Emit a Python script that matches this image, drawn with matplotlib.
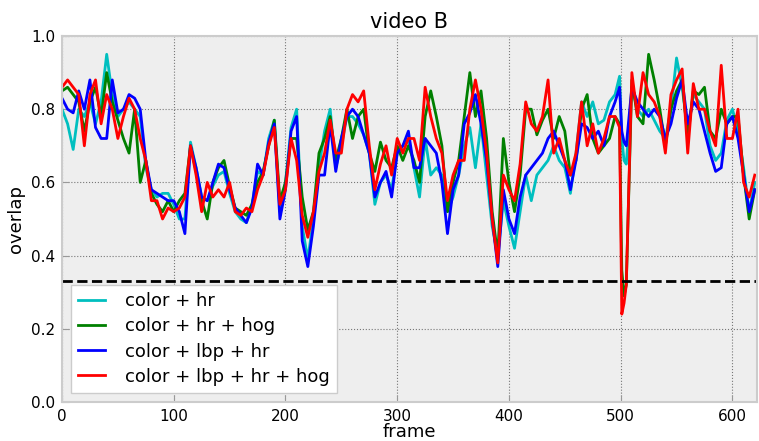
import numpy as np
import matplotlib
matplotlib.use("Agg")
import matplotlib.pyplot as plt

# frame numbers (denser around the drop near frame 500)
frames = list(range(0, 500, 5)) + [499, 501, 503, 505] + list(range(510, 621, 5))

color_hr = [
    0.80, 0.76, 0.69, 0.80, 0.78, 0.82, 0.76, 0.82, 0.95, 0.84, 0.78, 0.80, 0.82, 0.80, 0.78, 0.64, 0.58, 0.56, 0.57, 0.57, 0.54, 0.50, 0.50,
    0.71, 0.64, 0.56, 0.55, 0.59, 0.62, 0.63, 0.57, 0.52, 0.50, 0.49, 0.54, 0.63, 0.62, 0.72, 0.77, 0.52, 0.60, 0.75, 0.80, 0.48,
    0.39, 0.50, 0.64, 0.74, 0.80, 0.64, 0.70, 0.78, 0.78, 0.76, 0.73, 0.68, 0.54, 0.60, 0.62, 0.58, 0.68, 0.70, 0.72, 0.64, 0.56, 0.72,
    0.62, 0.64, 0.62, 0.52, 0.56, 0.62, 0.70, 0.75, 0.64, 0.76, 0.62, 0.48, 0.40, 0.55, 0.48, 0.42, 0.52, 0.62, 0.55, 0.62, 0.64,
    0.66, 0.70, 0.66, 0.64, 0.57, 0.68, 0.82, 0.78, 0.82, 0.76, 0.77, 0.82, 0.84,
    0.89, 0.72, 0.66, 0.65,
    0.86, 0.80, 0.78, 0.80, 0.77, 0.74, 0.72, 0.80, 0.94, 0.86, 0.74, 0.84, 0.82, 0.80, 0.70, 0.66, 0.68, 0.77, 0.80, 0.74, 0.64, 0.52, 0.60,
]

color_hr_hog = [
    0.85, 0.86, 0.84, 0.82, 0.74, 0.82, 0.86, 0.78, 0.90, 0.82, 0.77, 0.72, 0.68, 0.80, 0.60, 0.66, 0.57, 0.54, 0.52, 0.55, 0.52, 0.55, 0.57,
    0.70, 0.63, 0.55, 0.50, 0.60, 0.64, 0.66, 0.59, 0.53, 0.52, 0.51, 0.54, 0.60, 0.63, 0.70, 0.77, 0.55, 0.60, 0.72, 0.72, 0.56,
    0.47, 0.52, 0.68, 0.72, 0.78, 0.66, 0.72, 0.80, 0.72, 0.78, 0.80, 0.68, 0.63, 0.71, 0.66, 0.64, 0.70, 0.66, 0.70, 0.66, 0.60, 0.78,
    0.85, 0.78, 0.70, 0.52, 0.60, 0.66, 0.78, 0.90, 0.78, 0.85, 0.72, 0.52, 0.40, 0.72, 0.60, 0.52, 0.62, 0.80, 0.80, 0.73, 0.77,
    0.80, 0.72, 0.78, 0.74, 0.62, 0.66, 0.80, 0.84, 0.72, 0.68, 0.70, 0.72, 0.78,
    0.76, 0.36, 0.29, 0.32,
    0.88, 0.78, 0.76, 0.95, 0.88, 0.80, 0.70, 0.80, 0.85, 0.88, 0.72, 0.85, 0.84, 0.86, 0.74, 0.72, 0.80, 0.76, 0.78, 0.78, 0.62, 0.50, 0.58,
]

color_lbp_hr = [
    0.83, 0.80, 0.79, 0.85, 0.80, 0.88, 0.75, 0.72, 0.72, 0.88, 0.79, 0.80, 0.84, 0.83, 0.80, 0.66, 0.58, 0.57, 0.56, 0.55, 0.55, 0.52, 0.46,
    0.70, 0.64, 0.56, 0.55, 0.60, 0.65, 0.64, 0.58, 0.53, 0.51, 0.49, 0.53, 0.65, 0.62, 0.71, 0.76, 0.50, 0.58, 0.74, 0.78, 0.44,
    0.37, 0.48, 0.62, 0.62, 0.76, 0.63, 0.72, 0.78, 0.80, 0.78, 0.73, 0.68, 0.56, 0.60, 0.63, 0.56, 0.68, 0.70, 0.74, 0.64, 0.64, 0.72,
    0.70, 0.68, 0.60, 0.46, 0.58, 0.62, 0.76, 0.79, 0.84, 0.76, 0.66, 0.50, 0.37, 0.58, 0.50, 0.46, 0.56, 0.62, 0.64, 0.66, 0.68,
    0.72, 0.74, 0.70, 0.66, 0.58, 0.66, 0.76, 0.75, 0.72, 0.74, 0.70, 0.78, 0.82,
    0.86, 0.74, 0.71, 0.70,
    0.86, 0.82, 0.80, 0.78, 0.80, 0.78, 0.72, 0.76, 0.83, 0.88, 0.76, 0.82, 0.80, 0.74, 0.68, 0.63, 0.64, 0.76, 0.78, 0.72, 0.62, 0.52, 0.58,
]

color_lbp_hr_hog = [
    0.86, 0.88, 0.86, 0.84, 0.70, 0.84, 0.88, 0.76, 0.84, 0.80, 0.72, 0.78, 0.83, 0.80, 0.72, 0.66, 0.55, 0.55, 0.50, 0.53, 0.52, 0.53, 0.56,
    0.70, 0.62, 0.52, 0.60, 0.56, 0.58, 0.56, 0.60, 0.52, 0.51, 0.53, 0.52, 0.58, 0.62, 0.70, 0.75, 0.54, 0.58, 0.72, 0.66, 0.51,
    0.45, 0.52, 0.63, 0.68, 0.77, 0.68, 0.68, 0.80, 0.84, 0.82, 0.85, 0.70, 0.58, 0.65, 0.70, 0.62, 0.72, 0.68, 0.72, 0.72, 0.66, 0.86,
    0.78, 0.72, 0.68, 0.55, 0.62, 0.66, 0.66, 0.80, 0.88, 0.80, 0.68, 0.50, 0.38, 0.62, 0.58, 0.55, 0.65, 0.82, 0.76, 0.74, 0.78,
    0.88, 0.68, 0.72, 0.66, 0.62, 0.68, 0.82, 0.70, 0.76, 0.68, 0.72, 0.78, 0.78,
    0.75, 0.24, 0.27, 0.32,
    0.90, 0.78, 0.90, 0.84, 0.82, 0.78, 0.68, 0.84, 0.88, 0.91, 0.68, 0.87, 0.80, 0.80, 0.74, 0.70, 0.92, 0.72, 0.72, 0.80, 0.60, 0.56, 0.62,
]

labels = ["color + hr", "color + hr + hog", "color + lbp + hr", "color + lbp + hr + hog"]
colors = ["#00bfbf", "#008000", "#0000ff", "#ff0000"]
threshold = 0.33

fig = plt.figure(figsize=(7.59, 4.41), dpi=100)
ax = fig.add_axes([62 / 759, 39 / 441, 695 / 759, 366 / 441])
ax.set_facecolor("#eeeeee")

for series, lab, col in zip([color_hr, color_hr_hog, color_lbp_hr, color_lbp_hr_hog], labels, colors):
    ax.plot(frames, series, color=col, linewidth=2, label=lab)

ax.axhline(threshold, color="black", linestyle="--", linewidth=2)

ax.set_xlim(0, 622)
ax.set_ylim(0, 1)
ax.set_xticks(np.arange(0, 601, 100))
ax.set_yticks(np.arange(0, 1.01, 0.2))
ax.set_yticklabels(["0.0", "0.2", "0.4", "0.6", "0.8", "1.0"])
ax.grid(True, color="#777777", linestyle=":", linewidth=0.8)
ax.set_axisbelow(True)
ax.tick_params(direction="in", length=5, color="#999999", labelsize=11, pad=5)
for sp in ax.spines.values():
    sp.set_color("#cccccc")
    sp.set_linewidth(1.5)

ax.set_title("video B", fontsize=15)
ax.set_xlabel("frame", fontsize=13, labelpad=-1)
ax.set_ylabel("overlap", fontsize=13)

leg = ax.legend(loc="lower left", fontsize=13, handlelength=1.5, handletextpad=1.1,
                labelspacing=0.4, borderaxespad=0.5, fancybox=False, framealpha=1)
leg.get_frame().set_edgecolor("#cccccc")

fig.savefig("out.png", dpi=100)
